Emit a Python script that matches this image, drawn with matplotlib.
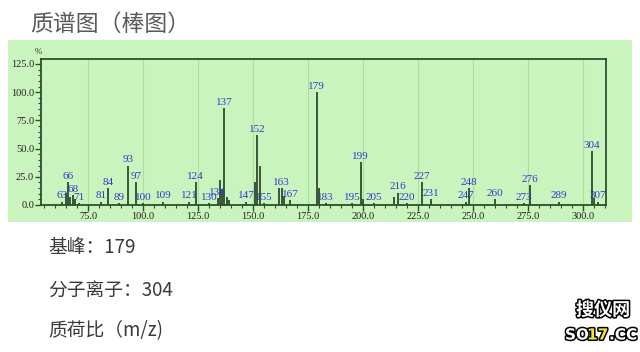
import matplotlib
matplotlib.use("Agg")
import matplotlib.pyplot as plt
from matplotlib.patches import Rectangle
from matplotlib.ticker import MultipleLocator, FormatStrFormatter
import matplotlib.patheffects as pe

plt.rcParams['font.family'] = ['Noto Sans CJK SC', 'DejaVu Sans']

# Mass spectrum: m/z and relative abundance (%)
mz = [63, 65, 66, 67, 68, 69, 71, 81, 84, 89, 93, 97, 100, 109, 121, 124,
      130, 134, 135, 136, 137, 138, 139, 147, 151, 152, 153, 155, 162, 163,
      164, 167, 179, 180, 183, 195, 199, 200, 205, 214, 216, 220, 227, 231,
      247, 248, 260, 273, 276, 289, 304, 305, 307]
intensity = [3, 11, 20, 7, 9, 5, 2, 3, 15, 2, 35, 20, 2, 3, 3, 20,
             2, 6, 22, 14, 86, 7, 4, 3, 20, 62, 35, 2, 15, 15,
             8, 4, 100, 15, 2, 2, 38, 5, 2, 7, 11, 2, 20, 5,
             3, 15, 5, 2, 18, 3, 48, 6, 3]
labeled = [63, 66, 68, 71, 81, 84, 89, 93, 97, 100, 109, 121, 124, 130, 134,
           137, 147, 152, 155, 163, 167, 179, 183, 195, 199, 205, 216, 220,
           227, 231, 247, 248, 260, 273, 276, 289, 304, 307]
y_ticks = [0, 25, 50, 75, 100, 125]
x_ticks = [75, 100, 125, 150, 175, 200, 225, 250, 275, 300]

panel_green = '#caf4bd'
bar_color = '#2e4a2e'
axis_color = '#2c4f2c'
label_blue = '#2a3fc8'

fig = plt.figure(figsize=(6.4, 3.52), dpi=100)
fig.patch.set_facecolor('white')

# green panel behind the spectrum
fig.patches.append(Rectangle((8 / 640, 1 - 222 / 352), 624 / 640, 182 / 352,
                             transform=fig.transFigure, facecolor=panel_green,
                             edgecolor='none', zorder=-5))

ax = fig.add_axes([41 / 640, 1 - 205 / 352, 565 / 640, 146 / 352])
ax.set_zorder(2)
ax.set_facecolor(panel_green)
ax.set_xlim(53.6, 310.5)
ax.set_ylim(0, 129.4)

ax.vlines(mz, 0, intensity, colors=bar_color, linewidth=1.3, zorder=3)

lab_font = dict(family='Liberation Serif', fontsize=8, color=label_blue)
for m, v in zip(mz, intensity):
    if m in labeled:
        ax.text(m, v + 1.0, str(m), ha='center', va='bottom', zorder=4, **lab_font)

ax.set_yticks(y_ticks)
ax.set_xticks(x_ticks)
ax.yaxis.set_major_formatter(FormatStrFormatter('%.1f'))
ax.xaxis.set_major_formatter(FormatStrFormatter('%.1f'))
ax.xaxis.set_minor_locator(MultipleLocator(5))
ax.yaxis.set_minor_locator(MultipleLocator(5))
ax.tick_params(axis='both', which='major', length=4, width=1, color=axis_color,
               labelsize=7.5, pad=1, direction='out')
ax.tick_params(axis='both', which='minor', length=2, width=0.8, color=axis_color,
               direction='out')
for lbl in ax.get_xticklabels() + ax.get_yticklabels():
    lbl.set_fontfamily('Liberation Serif')
    lbl.set_color('#222222')

ax.grid(axis='x', which='major', color='#aedd9c', linewidth=0.8, zorder=1)
ax.set_axisbelow(True)
for s in ax.spines.values():
    s.set_color(axis_color)
    s.set_linewidth(1.3)

ax.text(-0.005, 1.02, '%', transform=ax.transAxes, ha='center', va='bottom',
        fontsize=6.5, family='Liberation Serif', color='#333333')

# heading and notes
fig.text(30 / 640, 1 - 24 / 352, '质谱图（棒图）', fontsize=16.5, color='#5a5a5a',
         ha='left', va='center')
notes = ['基峰：179', '分子离子：304', '质荷比（m/z)']
for txt, yp in zip(notes, [248, 291, 331]):
    fig.text(48 / 640, 1 - yp / 352, txt, fontsize=13.5, color='#3a3a3a',
             ha='left', va='center')

# site mark
stroke = [pe.withStroke(linewidth=2.2, foreground='black')]
fig.text(603 / 640, 1 - 310 / 352, '搜仪网', fontsize=13, color='white',
         ha='center', va='center', fontweight='bold', path_effects=stroke)
mark_parts = [('SO', 'white', 565), ('17', '#f5e33a', 587), ('.CC', 'white', 609)]
for part, col, xp in mark_parts:
    fig.text(xp / 640, 1 - 335 / 352, part, fontsize=11, color=col,
             ha='left', va='center', fontweight='bold', path_effects=stroke,
             family='DejaVu Sans')

fig.savefig('out.png', dpi=100, facecolor=fig.get_facecolor())
